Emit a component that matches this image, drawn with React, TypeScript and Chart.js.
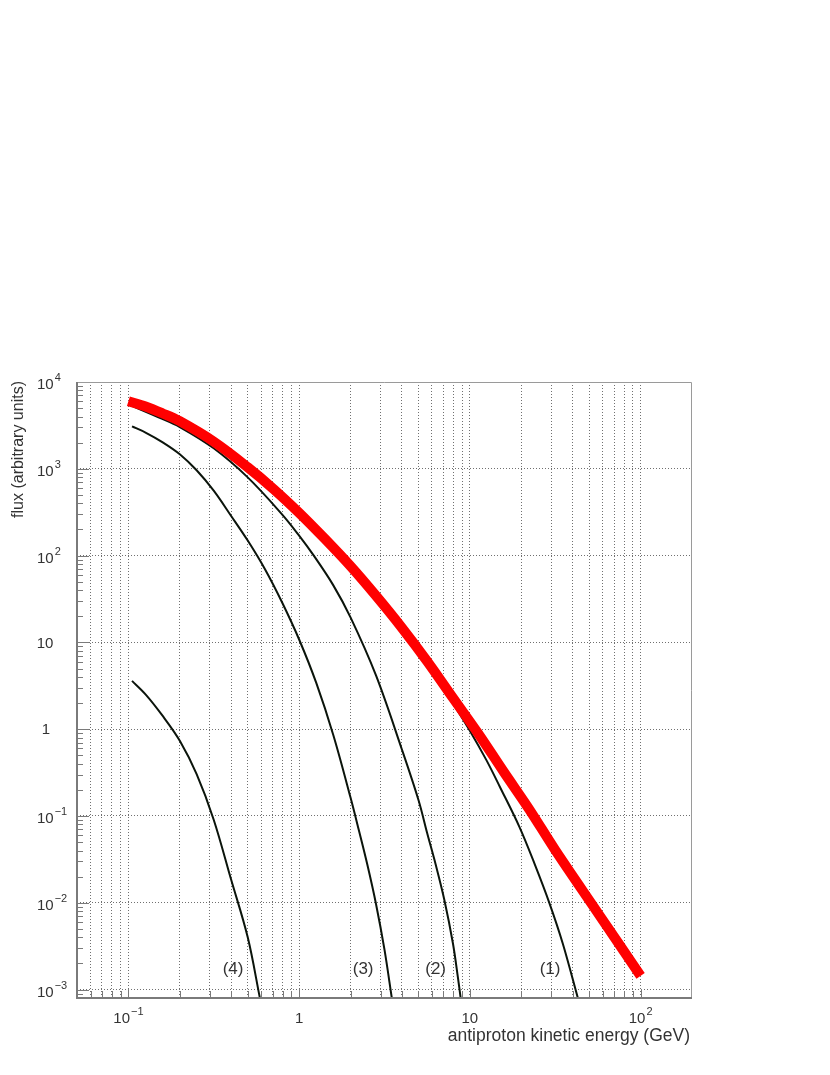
import React, { useEffect, useRef } from "react";
import { Chart, registerables } from "chart.js";

Chart.register(...registerables);

// ---- axis ranges & tick labels ----
const xMin = 0.05;
const xMax = 200;
const yMin = 0.0008;
const yMax = 10000;
const xMajorTicks = [0.1, 1, 10, 100];
const xMajorBase = ["10", "1", "10", "10"];
const xMajorExp = ["\u22121", "", "", "2"];
const yMajorTicks = [0.001, 0.01, 0.1, 1, 10, 100, 1000, 10000];
const yMajorBase = ["10", "10", "10", "1", "10", "10", "10", "10"];
const yMajorExp = ["\u22123", "\u22122", "\u22121", "", "", "2", "3", "4"];
const xTitle = "antiproton kinetic energy (GeV)";
const yTitle = "flux (arbitrary units)";

// ---- data ----
const totalE = [0.1, 0.126, 0.158, 0.2, 0.316, 0.5, 0.71, 1.0, 1.41, 2.0, 2.82, 3.98, 5.62, 7.94, 11.2, 15.8, 22.4, 31.6, 56.2, 100];
const totalF = [6000, 5224, 4365, 3532, 2056, 1042, 583, 311, 157, 75.5, 34.4, 14.9, 6.07, 2.31, 0.889, 0.322, 0.1175, 0.0406, 0.00764, 0.00144];

const c1E = [0.105, 0.126, 0.158, 0.2, 0.316, 0.5, 0.71, 1.0, 1.41, 2.0, 2.82, 3.98, 5.0, 6.3, 7.94, 10, 12.5, 15, 19.5, 24, 29.3, 35, 42.9];
const c1F = [5400, 4860, 4060, 3285, 1912, 969, 542, 289, 146, 70.2, 32, 13.9, 7.67, 4.1, 2.01, 0.96, 0.44, 0.216, 0.075, 0.0277, 0.0098, 0.0034, 0.0008];

const c2E = [0.105, 0.15, 0.2, 0.316, 0.5, 0.794, 1.0, 1.21, 1.58, 2.0, 2.82, 3.98, 5.0, 5.62, 6.3, 7.08, 7.96, 8.51, 8.83];
const c2F = [5310, 3926, 3027, 1722, 796, 299, 170, 102, 46, 19.4, 4.16, 0.6, 0.153, 0.0637, 0.0278, 0.0109, 0.0034, 0.00138, 0.0008];

const c3E = [0.105, 0.126, 0.158, 0.2, 0.251, 0.316, 0.398, 0.5, 0.631, 0.794, 1.0, 1.26, 1.585, 2.0, 2.24, 2.51, 2.82, 3.16, 3.49];
const c3F = [3080, 2618, 2032, 1472, 962, 560, 290, 149, 69.7, 29, 10.8, 3.41, 0.857, 0.163, 0.068, 0.0274, 0.0097, 0.0029, 0.0008];

const c4E = [0.105, 0.126, 0.158, 0.2, 0.251, 0.316, 0.398, 0.5, 0.589];
const c4F = [3.6, 2.52, 1.44, 0.736, 0.303, 0.0906, 0.019, 0.004, 0.0008];

const floorE = [1.41, 100];
const floorF = [0.0008, 0.0008];

const curveLabels = ["(1)", "(2)", "(3)", "(4)"];
const curveLabelE = [29.5, 6.3, 2.37, 0.41];
const curveLabelF = [0.0017, 0.0017, 0.0017, 0.0017];

const toPts = (xs: number[], ys: number[]) => xs.map((x, i) => ({ x, y: ys[i] }));

function decadeTicks(min: number, max: number, withMinor: boolean) {
  const out: { v: number; major: boolean }[] = [];
  const lo = Math.floor(Math.log10(min));
  const hi = Math.ceil(Math.log10(max));
  for (let p = lo; p <= hi; p++) {
    const d = Math.pow(10, p);
    const ms = withMinor ? [1, 2, 3, 4, 5, 6, 7, 8, 9] : [1];
    for (const m of ms) {
      const v = parseFloat((m * d).toPrecision(6));
      if (v > min * 1.0001 && v < max * 0.9999) out.push({ v, major: m === 1 });
    }
  }
  return out;
}

const FONT = "'Liberation Sans', 'DejaVu Sans', sans-serif";

const decorPlugin = {
  id: "decor",
  afterDraw(chart: any) {
    const { ctx, chartArea: a } = chart;
    const x = chart.scales.x;
    const y = chart.scales.y;
    ctx.save();
    // frame
    ctx.strokeStyle = "#9a9a9a";
    ctx.lineWidth = 1;
    ctx.beginPath();
    ctx.moveTo(a.left, a.top + 0.5);
    ctx.lineTo(a.right - 0.5, a.top + 0.5);
    ctx.lineTo(a.right - 0.5, a.bottom);
    ctx.stroke();
    ctx.strokeStyle = "#7a7a7a";
    ctx.lineWidth = 2;
    ctx.beginPath();
    ctx.moveTo(a.left, a.top);
    ctx.lineTo(a.left, a.bottom);
    ctx.lineTo(a.right, a.bottom);
    ctx.stroke();

    // tick marks
    ctx.lineWidth = 1;
    ctx.strokeStyle = "#7a7a7a";
    for (const t of decadeTicks(xMin, xMax, true)) {
      const px = Math.round(x.getPixelForValue(t.v)) + 0.5;
      const len = t.major ? 9 : 7;
      ctx.beginPath();
      ctx.moveTo(px, a.bottom);
      ctx.lineTo(px, a.bottom - len);
      ctx.stroke();
    }
    for (const t of decadeTicks(yMin, yMax, true)) {
      const py = Math.round(y.getPixelForValue(t.v)) + 0.5;
      const len = t.major ? 12 : 6;
      ctx.beginPath();
      ctx.moveTo(a.left, py);
      ctx.lineTo(a.left + len, py);
      ctx.stroke();
    }

    // tick labels
    ctx.fillStyle = "#333";
    ctx.textBaseline = "middle";
    const baseFont = `15px ${FONT}`;
    const expFont = `11px ${FONT}`;
    xMajorTicks.forEach((v, i) => {
      const px = x.getPixelForValue(v);
      ctx.font = baseFont;
      const wb = ctx.measureText(xMajorBase[i]).width;
      ctx.font = expFont;
      const we = xMajorExp[i] ? ctx.measureText(xMajorExp[i]).width + 1 : 0;
      const start = px - (wb + we) / 2;
      ctx.font = baseFont;
      ctx.textAlign = "left";
      ctx.fillText(xMajorBase[i], start, a.bottom + 21);
      if (xMajorExp[i]) {
        ctx.font = expFont;
        ctx.fillText(xMajorExp[i], start + wb + 1, a.bottom + 14);
      }
    });
    yMajorTicks.forEach((v, i) => {
      const py = y.getPixelForValue(v);
      ctx.font = baseFont;
      ctx.textAlign = "left";
      if (yMajorExp[i]) {
        const wb = ctx.measureText(yMajorBase[i]).width;
        ctx.fillText(yMajorBase[i], 37, py + 3);
        ctx.font = expFont;
        ctx.fillText(yMajorExp[i], 37 + wb + 1, py - 4);
      } else {
        const wb = ctx.measureText(yMajorBase[i]).width;
        const cx = yMajorBase[i] === "1" ? 46 : 45;
        ctx.fillText(yMajorBase[i], cx - wb / 2, py + 1);
      }
    });

    // axis titles
    ctx.fillStyle = "#333";
    ctx.textBaseline = "alphabetic";
    ctx.textAlign = "right";
    ctx.font = `17.5px ${FONT}`;
    ctx.fillText(xTitle, a.right - 2, a.bottom + 43);
    ctx.save();
    ctx.translate(23, a.top - 1);
    ctx.rotate(-Math.PI / 2);
    ctx.textAlign = "right";
    ctx.font = `16px ${FONT}`;
    ctx.fillText(yTitle, 0, 0);
    ctx.restore();

    // curve labels
    ctx.font = `17px ${FONT}`;
    ctx.fillStyle = "#333";
    ctx.textAlign = "center";
    ctx.textBaseline = "middle";
    curveLabels.forEach((s, i) => {
      ctx.fillText(s, x.getPixelForValue(curveLabelE[i]), y.getPixelForValue(curveLabelF[i]));
    });
    ctx.restore();
  },
};

export default function App() {
  const ref = useRef<HTMLCanvasElement | null>(null);
  useEffect(() => {
    if (!ref.current) return;
    const xGrid = decadeTicks(xMin, xMax, true).map((t) => ({ value: t.v }));
    const yGrid = decadeTicks(yMin, yMax, false).map((t) => ({ value: t.v }));
    const black = "#0b140b";
    const lineDs = (data: any, color: string, width: number) => ({
      data,
      borderColor: color,
      backgroundColor: color,
      borderWidth: width,
      pointRadius: 0,
      fill: false,
      tension: 0.35,
    });
    const chart = new Chart(ref.current, {
      type: "line",
      data: {
        datasets: [
          { ...lineDs(toPts(totalE, totalF), "#ff0000", 10), borderCapStyle: "butt" as const },
          lineDs(toPts(c1E, c1F), black, 2),
          lineDs(toPts(c2E, c2F), black, 2),
          lineDs(toPts(c3E, c3F), black, 2),
          lineDs(toPts(c4E, c4F), black, 2),
          { ...lineDs(toPts(floorE, floorF), black, 2), tension: 0 },
        ],
      },
      options: {
        responsive: false,
        animation: false,
        events: [],
        layout: { padding: { top: 382, right: 138, left: 0, bottom: 0 } },
        plugins: { legend: { display: false }, tooltip: { enabled: false }, title: { display: false } },
        scales: {
          x: {
            type: "logarithmic",
            min: xMin,
            max: xMax,
            afterBuildTicks: (s: any) => {
              s.ticks = xGrid.map((t) => ({ ...t }));
            },
            afterFit: (s: any) => {
              s.height = 77;
            },
            ticks: { display: false },
            grid: { color: "#707070", lineWidth: 1, drawTicks: false },
            border: { display: false, dash: [1, 2] },
          },
          y: {
            type: "logarithmic",
            min: yMin,
            max: yMax,
            afterBuildTicks: (s: any) => {
              s.ticks = yGrid.map((t) => ({ ...t }));
            },
            afterFit: (s: any) => {
              s.width = 77;
            },
            ticks: { display: false },
            grid: { color: "#707070", lineWidth: 1, drawTicks: false },
            border: { display: false, dash: [1, 2] },
          },
        },
      },
      plugins: [decorPlugin],
    });
    return () => chart.destroy();
  }, []);
  return (
    <div style={{ position: "absolute", left: 0, top: 0, width: 830, height: 1075, background: "#fff" }}>
      <canvas ref={ref} width={830} height={1075} style={{ display: "block", width: 830, height: 1075 }} />
    </div>
  );
}
